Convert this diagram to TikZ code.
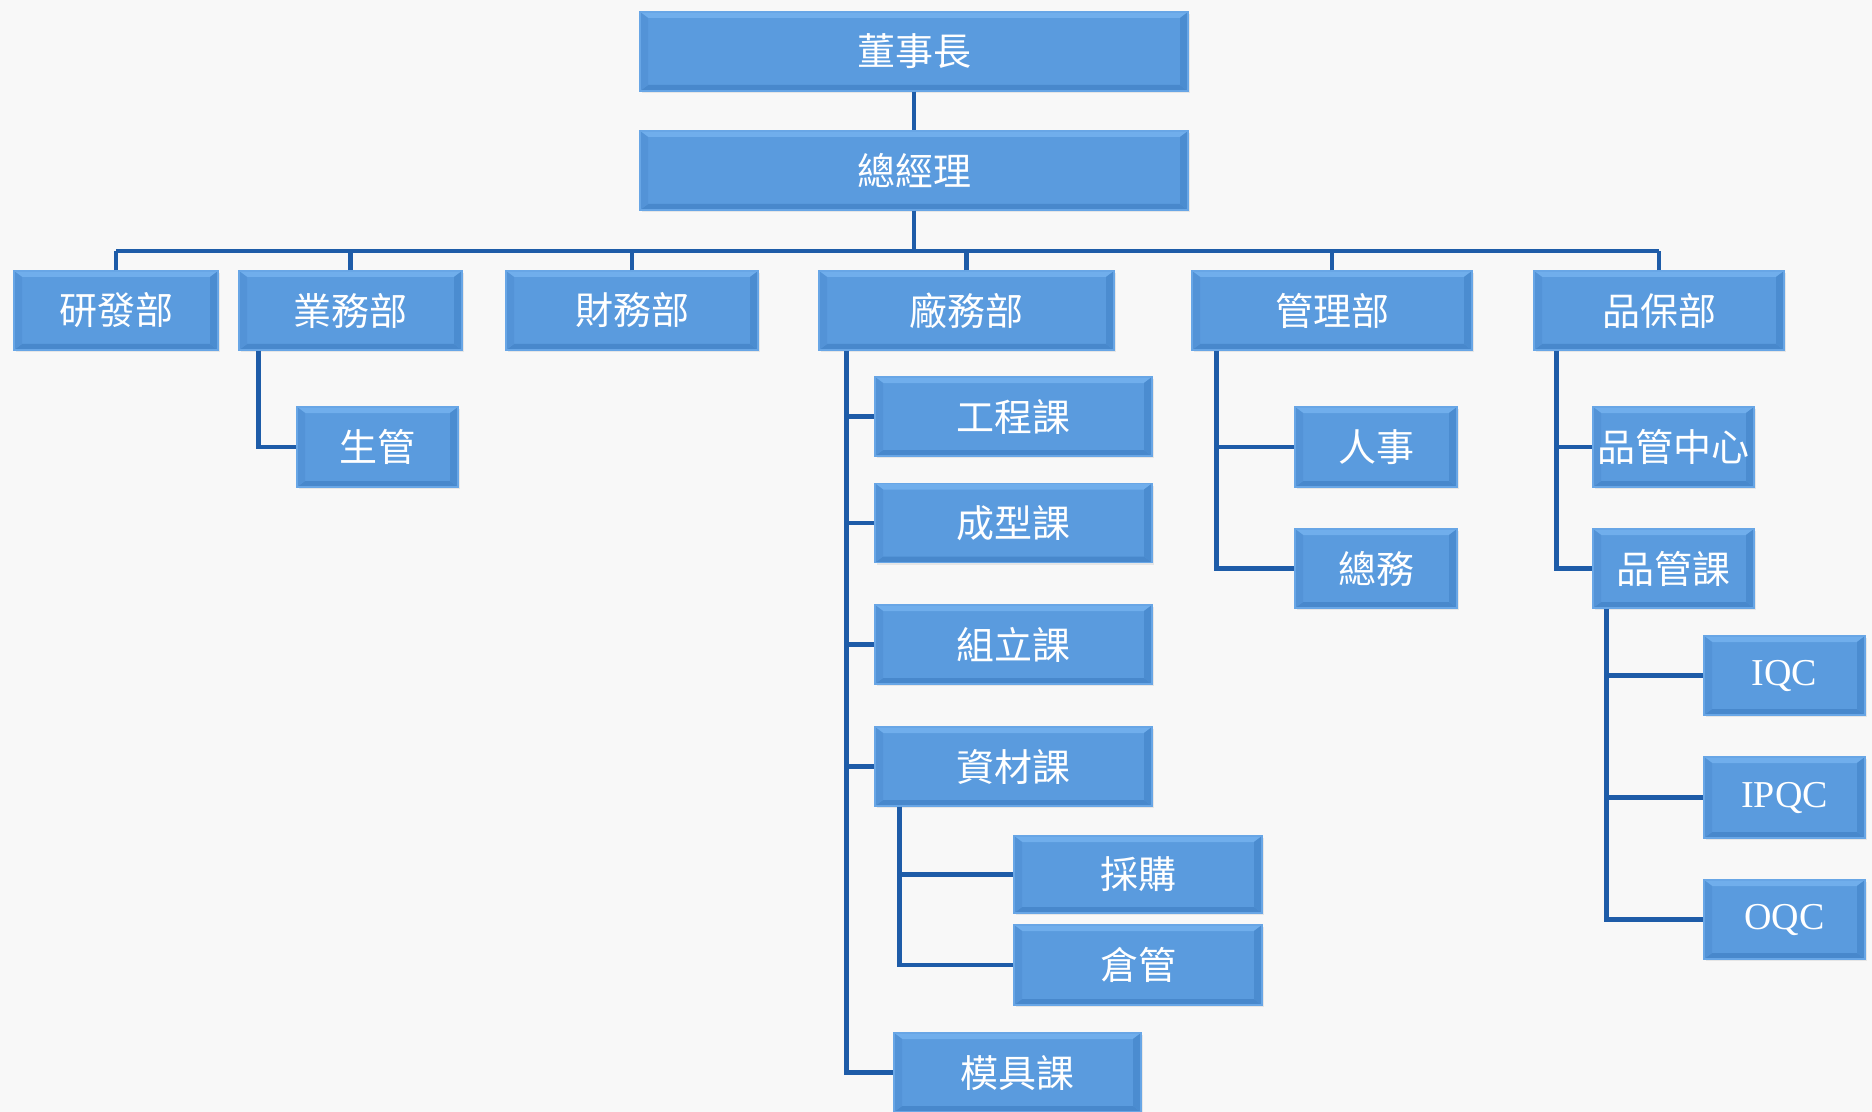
\documentclass[tikz,border=0pt]{standalone}
\usepackage{fontspec}
\newfontfamily\cjk{Noto Sans CJK TC}
\newfontfamily\latinserif{Liberation Serif}
\usetikzlibrary{shadows}
\definecolor{bgcol}{RGB}{248,248,248}
\definecolor{boxfill}{RGB}{90,155,222}
\definecolor{boxlight}{RGB}{112,174,236}
\definecolor{boxdark}{RGB}{72,136,204}
\definecolor{boxedge}{RGB}{104,166,230}
\definecolor{linkcol}{RGB}{30,92,168}
\tikzset{
  box/.style={rectangle, fill=boxfill, draw=boxedge, line width=0.6pt, text=white,
    inner sep=0pt, minimum height=39.5pt, font=\cjk\fontsize{19}{22}\selectfont,
    drop shadow={opacity=0.15, shadow xshift=1pt, shadow yshift=-1pt},
    path picture={
      \fill[boxlight] (path picture bounding box.north west) -- (path picture bounding box.north east)
        -- ([shift={(-4pt,-3pt)}]path picture bounding box.north east) -- ([shift={(4pt,-3pt)}]path picture bounding box.north west) -- cycle;
      \fill[boxdark] (path picture bounding box.south west) -- (path picture bounding box.south east)
        -- ([shift={(-4pt,3pt)}]path picture bounding box.south east) -- ([shift={(4pt,3pt)}]path picture bounding box.south west) -- cycle;
      \fill[boxdark!80!boxfill] (path picture bounding box.north east) -- (path picture bounding box.south east)
        -- ([shift={(-4pt,3pt)}]path picture bounding box.south east) -- ([shift={(-4pt,-3pt)}]path picture bounding box.north east) -- cycle;
      \fill[boxdark!40!boxfill] (path picture bounding box.north west) -- (path picture bounding box.south west)
        -- ([shift={(4pt,3pt)}]path picture bounding box.south west) -- ([shift={(4pt,-3pt)}]path picture bounding box.north west) -- cycle;
    }},
  qcbox/.style={box, font=\latinserif\fontsize{19}{22}\selectfont},
  link/.style={draw=linkcol, line width=2.4pt}
}
\begin{document}
\begin{tikzpicture}[x=0.5pt, y=-0.5pt]
                \fill[bgcol] (0,0) rectangle (1872,1112);
                \useasboundingbox (0,0) rectangle (1872,1112);

                \node[box, minimum width=274pt] (dsz) at (914,51.5) {董事長};
                \node[box, minimum width=274pt] (zjl) at (914,170.5) {總經理};
                \coordinate (bus) at (914,251);

                \node[box, minimum width=102pt] (yf) at (116,310.5) {研發部};
                \node[box, minimum width=111.5pt] (yw) at (350.5,310.5) {業務部};
                \node[box, minimum width=126pt] (cw) at (632,310.5) {財務部};
                \node[box, minimum width=147.5pt] (cwb) at (966.5,310.5) {廠務部};
                \node[box, minimum width=140pt] (gl) at (1332,310.5) {管理部};
                \node[box, minimum width=125pt] (pb) at (1659,310.5) {品保部};

                \node[box, minimum width=80.5pt, minimum height=40pt] (sg) at (377.5,447) {生管};

                \node[box, minimum width=138.5pt] (gc) at (1013.5,416.5) {工程課};
                \node[box, minimum width=138.5pt] (cx) at (1013.5,523) {成型課};
                \node[box, minimum width=138.5pt] (zl) at (1013.5,644.5) {組立課};
                \node[box, minimum width=138.5pt] (zc) at (1013.5,766.5) {資材課};
                \node[box, minimum width=124pt, minimum height=38.5pt] (cg) at (1138,874.5) {採購};
                \node[box, minimum width=124pt, minimum height=40pt] (cgg) at (1138,965) {倉管};
                \node[box, minimum width=123.5pt] (mj) at (1017.5,1072.5) {模具課};

                \node[box, minimum width=81pt, minimum height=40pt] (rs) at (1376,447) {人事};
                \node[box, minimum width=81pt] (zw) at (1376,568.5) {總務};

                \node[box, minimum width=80.5pt, minimum height=40pt] (pgzx) at (1673.5,447) {品管中心};
                \node[box, minimum width=80.5pt] (pgk) at (1673.5,568.5) {品管課};
                \node[qcbox, minimum width=80.5pt] (iqc) at (1784.5,675.5) {IQC};
                \node[qcbox, minimum width=80.5pt, minimum height=40.5pt] (ipqc) at (1784.5,797.5) {IPQC};
                \node[qcbox, minimum width=80.5pt] (oqc) at (1784.5,919.5) {OQC};

                \draw[link] (dsz) -- (zjl);
                \draw[link] (zjl.south) -- (bus);
                \draw[link] (yf.north |- bus) -- (pb.north |- bus);
                \foreach \n in {yf,yw,cw,cwb,gl,pb}
                    \draw[link] (\n.north) -- (\n.north |- bus);

                \draw[link] ([xshift=10pt]yw.south west) |- (sg.west);

                \coordinate (cwbx) at ([xshift=14pt]cwb.south west);
                \draw[link] (cwbx) |- (mj.west);
                \foreach \n in {gc,cx,zl,zc}
                    \draw[link] (cwbx |- \n.west) -- (\n.west);
                \coordinate (zcx) at ([xshift=12.5pt]zc.south west);
                \draw[link] (zcx) |- (cgg.west);
                \draw[link] (zcx |- cg.west) -- (cg.west);

                \coordinate (glx) at ([xshift=12.5pt]gl.south west);
                \draw[link] (glx) |- (zw.west);
                \draw[link] (glx |- rs.west) -- (rs.west);

                \coordinate (pbx) at ([xshift=11.5pt]pb.south west);
                \draw[link] (pbx) |- (pgk.west);
                \draw[link] (pbx |- pgzx.west) -- (pgzx.west);
                \coordinate (pgkx) at ([xshift=7pt]pgk.south west);
                \draw[link] (pgkx) |- (oqc.west);
                \draw[link] (pgkx |- iqc.west) -- (iqc.west);
                \draw[link] (pgkx |- ipqc.west) -- (ipqc.west);
            \end{tikzpicture}
\end{document}
